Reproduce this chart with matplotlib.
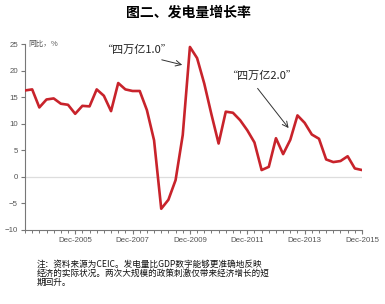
import numpy as np
import matplotlib.pyplot as plt
from matplotlib.ticker import FixedLocator, MultipleLocator

plt.rcParams['font.family'] = ['Noto Sans CJK SC', 'DejaVu Sans']

# quarterly YoY growth of power generation, Mar-2004 .. Dec-2015
growth = [16.3, 16.5, 13.1, 14.6, 14.8, 13.8, 13.6, 11.9,
          13.4, 13.3, 16.5, 15.3, 12.4, 17.7, 16.5, 16.2,
          16.2, 12.6, 6.9, -6.0, -4.3, -0.6, 7.9, 24.5,
          22.4, 17.6, 11.8, 6.3, 12.3, 12.1, 10.7, 8.8,
          6.5, 1.3, 1.9, 7.3, 4.3, 7.0, 11.6, 10.2,
          8.0, 7.2, 3.3, 2.8, 3.0, 3.9, 1.6, 1.3]
tick_pos = [7, 15, 23, 31, 39, 47]
tick_labels = ['Dec-2005', 'Dec-2007', 'Dec-2009', 'Dec-2011', 'Dec-2013', 'Dec-2015']
y_ticks = [-10, -5, 0, 5, 10, 15, 20, 25]

title = '图二、发电量增长率'
note_lines = ['注：资料来源为CEIC。发电量比GDP数字能够更准确地反映',
              '经济的实际状况。两次大规模的政策刺激仅带来经济增长的短',
              '期回升。']

W, H = 385, 304
fig = plt.figure(figsize=(W / 100, H / 100), dpi=100)
fig.patch.set_facecolor('white')
ax = fig.add_axes([25 / W, 1 - 230 / H, (362 - 25) / W, (230 - 44.3) / H])

x = np.arange(len(growth))
ax.axhline(0, color='#dddddd', lw=0.9, zorder=1)
ax.plot(x, growth, color='#c8232b', lw=1.9, solid_joinstyle='round', zorder=3)

ax.set_xlim(0, len(growth) - 1)
ax.set_ylim(-10, 25)
ax.xaxis.set_major_locator(FixedLocator(tick_pos))
ax.set_xticklabels(tick_labels)
ax.xaxis.set_minor_locator(MultipleLocator(1))
ax.set_yticks(y_ticks)
ax.tick_params(axis='both', which='major', direction='out', length=3, width=0.8,
               color='#777777', labelsize=5.7, labelcolor='#555555', pad=2)
ax.tick_params(axis='x', which='minor', direction='out', length=2, width=0.7, color='#777777')
for lbl in ax.get_xticklabels() + ax.get_yticklabels():
    lbl.set_family(['Liberation Sans', 'DejaVu Sans'])
for s in ['top', 'right']:
    ax.spines[s].set_visible(False)
for s in ['left', 'bottom']:
    ax.spines[s].set_color('#777777')
    ax.spines[s].set_linewidth(0.8)

# annotations
ax.text(15.6, 23.9, '“四万亿1.0”', fontsize=8, ha='center', va='center', color='#222222')
ax.annotate('', xy=(22.3, 21.0), xytext=(18.7, 22.2),
            arrowprops=dict(arrowstyle='->', color='#333333', lw=0.7))
ax.text(33.0, 19.0, '“四万亿2.0”', fontsize=8, ha='center', va='center', color='#222222')
ax.annotate('', xy=(37.0, 8.8), xytext=(32.2, 17.1),
            arrowprops=dict(arrowstyle='->', color='#333333', lw=0.7))

fig.text(28 / W, 1 - 44 / H, '同比，%', fontsize=5.5, color='#555555', ha='left', va='center')
fig.text(188 / W, 1 - 13 / H, title, fontsize=10, fontweight='bold', ha='center', va='center')

for i, line in enumerate(note_lines):
    fig.text(37 / W, 1 - (264.5 + 8.8 * i) / H, line, fontsize=6.2, ha='left', va='center',
             color='#111111')

fig.savefig('out.png', dpi=100)
